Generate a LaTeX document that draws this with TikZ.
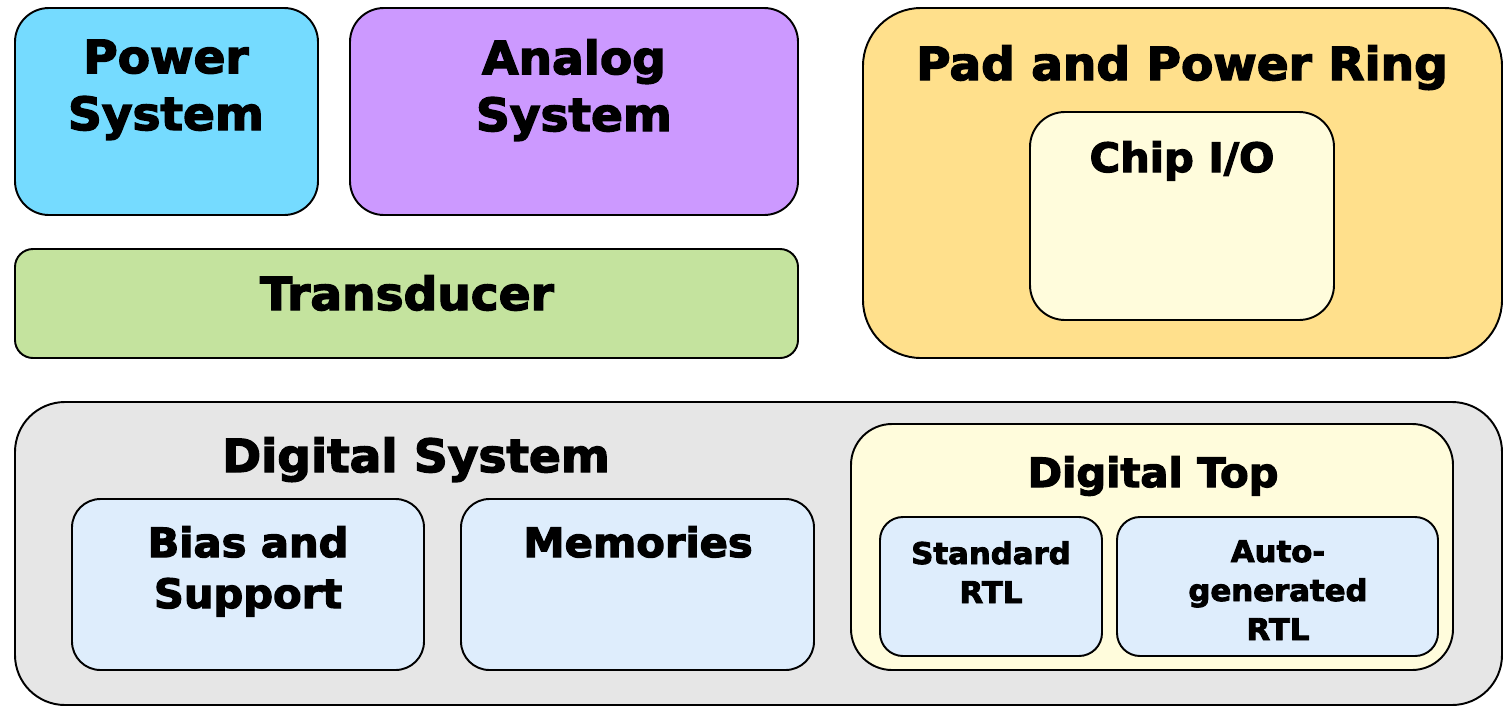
\documentclass[tikz,border=0pt]{standalone}
\usepackage{fontspec}
\setmainfont[BoldFeatures={FakeBold=3,FakeStretch=1.03}]{DejaVu Sans}
\usepackage{tikz}

\definecolor{powerblue}{RGB}{117,219,255}
\definecolor{analogpurple}{RGB}{204,153,255}
\definecolor{ringorange}{RGB}{255,224,140}
\definecolor{lightyellow}{RGB}{255,252,220}
\definecolor{transgreen}{RGB}{196,227,158}
\definecolor{digigrey}{RGB}{230,230,230}
\definecolor{subblue}{RGB}{222,237,252}

\tikzset{
  blk/.style={draw, line width=1.1pt},
  big/.style={font=\bfseries\fontsize{26}{32.4}\selectfont, align=center, inner sep=0pt, anchor=base},
  mid/.style={font=\bfseries\fontsize{23}{29}\selectfont, align=center, inner sep=0pt, anchor=base},
  small/.style={font=\bfseries\fontsize{17}{22.2}\selectfont, align=center, inner sep=0pt, anchor=base}
}

\begin{document}
\begin{tikzpicture}[x=0.02cm, y=-0.02cm]

\useasboundingbox (0,0) rectangle (1512,707);

%Top row
\draw[blk, fill=powerblue, rounded corners=0.68cm] (15,8) rectangle (318,215);
\draw[blk, fill=analogpurple, rounded corners=0.68cm] (350,8) rectangle (798,215);
\draw[blk, fill=transgreen, rounded corners=0.36cm] (15,249) rectangle (798,358);

\draw[blk, fill=ringorange, rounded corners=1.16cm] (863,8) rectangle (1502,358);
\draw[blk, fill=lightyellow, rounded corners=0.7cm] (1030,112) rectangle (1334,320);

%Digital system
\draw[blk, fill=digigrey, rounded corners=1.0cm] (15,402) rectangle (1502,705);
\draw[blk, fill=subblue, rounded corners=0.57cm] (72,499) rectangle (424,670);
\draw[blk, fill=subblue, rounded corners=0.57cm] (461,499) rectangle (814,670);

\draw[blk, fill=lightyellow, rounded corners=0.82cm] (851,424) rectangle (1453,670);
\draw[blk, fill=subblue, rounded corners=0.46cm] (880,517) rectangle (1102,656);
\draw[blk, fill=subblue, rounded corners=0.46cm] (1117,517) rectangle (1438,656);

%Labels (anchor base = last line)
\node[big] (power) at (166,130) {Power\\System};
\node[big] (analog) at (574,131) {Analog\\System};
\node[big] (transducer) at (407,310) {Transducer};
\node[big] (ring) at (1182,80) {Pad and Power Ring};
\node[mid] (chipio) at (1182,172) {Chip I/O};

\node[big] (digsys) at (416,472) {Digital System};
\node[mid] (bias) at (248,608) {Bias and\\Support};
\node[mid] (mem) at (638,557) {Memories};

\node[mid] (digtop) at (1153,487) {Digital Top};
\node[small] (stdrtl) at (991,603) {Standard\\RTL};
\node[small] (autortl) at (1278,640) {Auto-\\generated\\RTL};

\end{tikzpicture}
\end{document}
